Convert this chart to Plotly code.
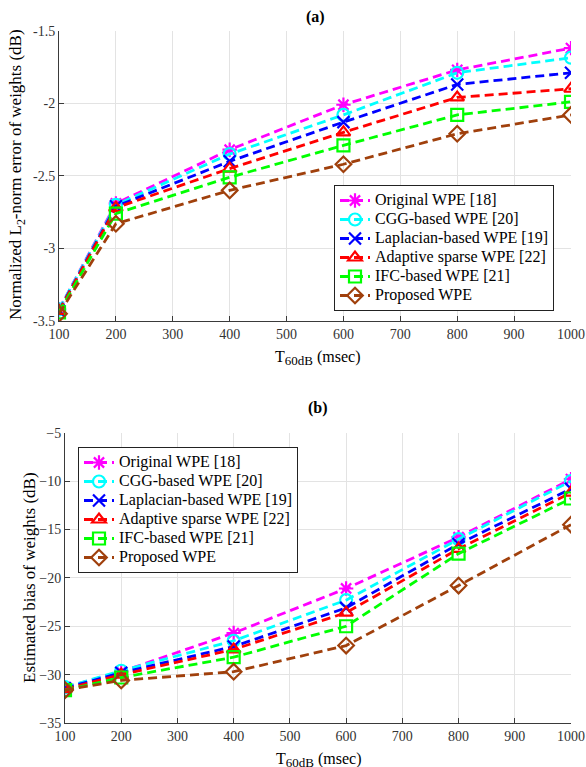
import plotly.graph_objects as go

W, H = 586, 767
t60 = [100, 200, 400, 600, 800, 1000]
x_ticks = [100, 200, 300, 400, 500, 600, 700, 800, 900, 1000]

names = ["Original WPE [18]", "CGG-based WPE [20]", "Laplacian-based WPE [19]",
         "Adaptive sparse WPE [22]", "IFC-based WPE [21]", "Proposed WPE"]
colors = ["#ff00ff", "#00ffff", "#0000ff", "#ff0000", "#00ff00", "#a0400c"]
symbols = ["asterisk-open", "circle-open", "x-thin-open", "triangle-up-open",
           "square-open", "diamond-open"]

# (a) normalized L2-norm error (dB)
err_original = [-3.42, -2.69, -2.32, -2.01, -1.77, -1.62]
err_cgg = [-3.42, -2.70, -2.35, -2.08, -1.79, -1.686]
err_laplacian = [-3.43, -2.71, -2.40, -2.13, -1.87, -1.79]
err_adaptive = [-3.43, -2.72, -2.45, -2.20, -1.96, -1.90]
err_ifc = [-3.44, -2.76, -2.51, -2.29, -2.08, -1.99]
err_proposed = [-3.45, -2.83, -2.60, -2.42, -2.21, -2.08]

# (b) estimated bias (dB)
bias_original = [-31.3, -29.7, -25.7, -21.1, -15.8, -9.8]
bias_cgg = [-31.3, -29.6, -26.5, -22.3, -16.0, -10.0]
bias_laplacian = [-31.4, -29.8, -27.1, -23.1, -16.5, -10.8]
bias_adaptive = [-31.5, -30.0, -27.4, -23.6, -17.0, -11.2]
bias_ifc = [-31.6, -30.3, -28.2, -25.0, -17.5, -11.8]
bias_proposed = [-31.6, -30.6, -29.7, -27.0, -20.8, -14.5]

err_sets = [err_original, err_cgg, err_laplacian, err_adaptive, err_ifc, err_proposed]
bias_sets = [bias_original, bias_cgg, bias_laplacian, bias_adaptive, bias_ifc, bias_proposed]

FONT = "Liberation Serif"
fig = go.Figure()

for i in range(6):
    label = "<span style='font-size:16px'>" + names[i] + "</span>"
    for sub, data, leg in (("a", err_sets[i], "legend"), ("b", bias_sets[i], "legend2")):
        fig.add_trace(go.Scatter(
            x=t60, y=data, name=label, mode="lines+markers",
            line=dict(color=colors[i], width=2.8, dash="9px,5px"),
            marker=dict(symbol=symbols[i], size=12, color=colors[i],
                        line=dict(color=colors[i], width=2.2)),
            xaxis="x" if sub == "a" else "x2",
            yaxis="y" if sub == "a" else "y2",
            legend=leg, showlegend=True))

def px_x(p):
    return p / W

def px_y(p):
    return 1 - p / H

axis_common = dict(showgrid=True, gridcolor="#e3e3e3", gridwidth=1,
                   showline=True, linecolor="#3a3a3a", linewidth=1,
                   ticks="inside", ticklen=5, tickcolor="#3a3a3a",
                   tickfont=dict(family=FONT, size=14, color="#333"),
                   zeroline=False, mirror=False, automargin=False)

def note(text, x, y, size, angle=0):
    return dict(text=text, x=px_x(x), y=px_y(y), xref="paper", yref="paper",
                xanchor="center", yanchor="middle", showarrow=False, textangle=angle,
                font=dict(family=FONT, size=size, color="black"))

xlabel = "T<sub><span style='font-size:13px'>60dB</span></sub> (msec)"

fig.update_layout(
    template="none",
    width=W, height=H, margin=dict(l=0, r=0, t=0, b=0, pad=0),
    paper_bgcolor="white", plot_bgcolor="white",
    font=dict(family=FONT, size=16, color="black"),
    xaxis=dict(domain=[px_x(59), px_x(571)], range=[100, 1000],
               tickvals=x_ticks, anchor="y", **axis_common),
    yaxis=dict(domain=[px_y(321), px_y(30.7)], range=[-3.5, -1.5],
               tickvals=[-3.5, -3, -2.5, -2, -1.5], ticktext=["-3.5", "-3", "-2.5", "-2", "-1.5"],
               anchor="x", **axis_common),
    xaxis2=dict(domain=[px_x(65), px_x(571)], range=[100, 1000],
                tickvals=x_ticks, anchor="y2", **axis_common),
    yaxis2=dict(domain=[px_y(723), px_y(432.7)], range=[-35, -5],
                tickvals=[-35, -30, -25, -20, -15, -10, -5], anchor="x2", **axis_common),
    legend=dict(x=px_x(334), y=px_y(185), xanchor="left", yanchor="top",
                bgcolor="white", bordercolor="#222", borderwidth=1,
                font=dict(family=FONT, size=12, color="black"), tracegroupgap=0),
    legend2=dict(x=px_x(78), y=px_y(447), xanchor="left", yanchor="top",
                 bgcolor="white", bordercolor="#222", borderwidth=1,
                 font=dict(family=FONT, size=12, color="black"), tracegroupgap=0),
    annotations=[
        note("<b>(a)</b>", 315, 17, 16),
        note("<b>(b)</b>", 318, 408, 16),
        note(xlabel, 317, 358, 16),
        note(xlabel, 318, 760, 16),
        note("Normalized L<sub>2</sub>-norm error of weights (dB)", 17, 175, 17, angle=-90),
        note("Estimated bias of weights (dB)", 29, 578, 17, angle=-90),
    ],
)

fig.write_html("out.html")
